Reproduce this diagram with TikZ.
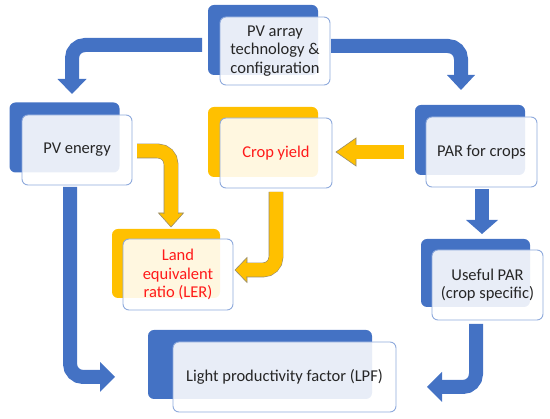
\documentclass[tikz,border=0pt]{standalone}
\usepackage{fontspec}
\setmainfont{Carlito}
\definecolor{bblue}{HTML}{4472C4}
\definecolor{gold}{HTML}{FFC000}
\definecolor{edge}{HTML}{8FAADC}
\definecolor{txt}{HTML}{262626}
\definecolor{gline}{RGB}{150,140,110}
\definecolor{redtxt}{HTML}{FF1A1A}
\tikzset{
  backblue/.style={fill=bblue, rounded corners=6pt, minimum width=110pt, minimum height=70pt, inner sep=0pt},
  backgold/.style={backblue, fill=gold},
  front/.style={fill=white, fill opacity=0.88, text opacity=1, draw=edge, line width=0.9pt,
    rounded corners=6pt, minimum width=110pt, minimum height=70pt, inner sep=2pt, align=center,
    font=\fontsize{16.5}{18.5}\selectfont, text=txt},
  redtext/.style={text=redtxt},
  bshaft/.style={draw=bblue, line width=14pt, rounded corners=13pt},
  bhead/.style={fill=bblue},
  gshaft/.style={draw=gline, line width=0.6pt, double=gold, double distance=13.5pt, rounded corners=13pt},
  ghead/.style={fill=gold, draw=gline, line width=0.6pt, line join=miter},
}
\begin{document}
\begin{tikzpicture}[x=1pt,y=-1pt]
\useasboundingbox (0,0) rectangle (550,419);

% ---------- back rectangles ----------
\node[backblue] (topB) at (263,40) {};
\node[backblue] (pvB) at (64.5,137.5) {};
\node[backgold] (cropB) at (263,142) {};
\node[backblue] (parB) at (470,140) {};
\node[backgold, minimum width=108pt, minimum height=69pt] (lerB) at (166,263.5) {};
\node[backblue, minimum width=109pt, minimum height=68pt] (upB) at (475.5,273) {};
\node[backblue, minimum width=224pt, minimum height=69pt] (lpfB) at (260,364.5) {};

% ---------- blue arrows ----------
\coordinate (a1s) at (202,45);   \coordinate (a1e) at (72,80);
\draw[bshaft] (a1s) -| (a1e);
\fill[bhead] (57.5,79) -- (86.5,79) -- (72,94) -- cycle;

\coordinate (a2s) at (331,46);   \coordinate (a2e) at (461,76);
\draw[bshaft] (a2s) -| (a2e);
\fill[bhead] (447,75) -- (475,75) -- (461,90) -- cycle;

\coordinate (a3s) at (70,187);   \coordinate (a3e) at (101,377);
\draw[bshaft] (a3s) |- (a3e);
\fill[bhead] (100,362) -- (100,392) -- (115,377) -- cycle;

\coordinate (a4s) at (476,324);  \coordinate (a4e) at (441,387);
\draw[bshaft] (a4s) |- (a4e);
\fill[bhead] (442,372) -- (442,402) -- (427,387) -- cycle;

\coordinate (a5s) at (482,189);  \coordinate (a5e) at (482,221);
\draw[bshaft] (a5s) -- (a5e);
\fill[bhead] (466,220) -- (498,220) -- (482,234) -- cycle;

% ---------- gold arrows ----------
\coordinate (a6s) at (404,152);  \coordinate (a6e) at (355,152);
\draw[ghead] (356,138) -- (356,166) -- (336,152) -- cycle;
\draw[gshaft] (a6s) -- (a6e);

\coordinate (a7s) at (137,151);  \coordinate (a7e) at (171,214);
\draw[ghead] (158.5,213) -- (183.5,213) -- (171,227) -- cycle;
\draw[gshaft] (a7s) -| (a7e);

\coordinate (a8s) at (276,192);  \coordinate (a8e) at (246,270);
\draw[ghead] (247,257.5) -- (247,282.5) -- (235,270) -- cycle;
\draw[gshaft] (a8s) |- (a8e);

% ---------- front boxes ----------
\node[front, minimum height=68pt] (top) at (275,51) {PV array\\technology \&\\configuration};
\node[front] (pv) at (77,150) {PV energy};
\node[front, minimum width=112pt, redtext] (crop) at (276,153) {Crop yield};
\node[front, minimum width=111pt] (par) at (481.5,152) {PAR for crops};
\node[front, minimum height=71pt, redtext] (ler) at (178,274.5) {Land\\equivalent\\ratio (LER)};
\node[front, minimum width=111pt] (up) at (487.5,285) {Useful PAR\\(crop specific)};
\node[front, minimum width=223pt] (lpf) at (284.5,377) {Light productivity factor (LPF)};
\end{tikzpicture}
\end{document}
